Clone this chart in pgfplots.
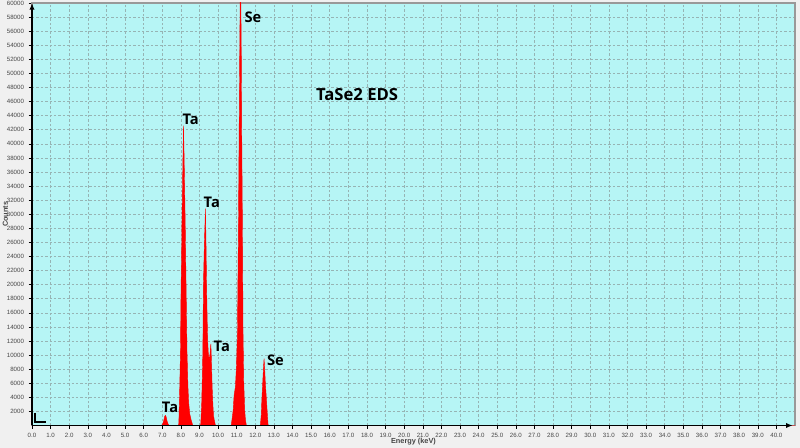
\documentclass[border=0pt]{standalone}
\usepackage{pgfplots}
\pgfplotsset{compat=1.18}
\usepackage{fontspec}
\setmainfont{Liberation Sans}
\newfontfamily\lab{Open Sans}
\usetikzlibrary{arrows.meta}
\definecolor{bgc}{RGB}{182,245,245}
\definecolor{outc}{RGB}{240,240,240}
\definecolor{gridc}{RGB}{150,180,180}
\definecolor{tickc}{RGB}{70,70,70}
\begin{document}
\begin{tikzpicture}
\fill[outc] (-24pt,-16.875pt) rectangle (576pt,319.125pt);
\begin{axis}[
  at={(0,0)}, anchor=south west,
  scale only axis, width=572.25pt, height=316.875pt,
  xmin=0, xmax=41, ymin=0, ymax=60000,
  axis background/.style={fill=bgc},
  axis line style={draw=gray!80, line width=1pt},
  xtick={0,1,...,40}, ytick={2000,4000,...,60000},
  xtick pos=lower, ytick pos=left,
  grid=major,
  major grid style={gridc, dash pattern=on 1.8pt off 1.5pt, line width=0.4pt},
  tick style={black, line width=0.4pt}, tick align=outside, major tick length=2.5pt,
  ticklabel style={font=\fontsize{4.6}{5.5}\selectfont, text=tickc},
  /pgf/number format/assume math mode=true,
  xticklabel style={/pgf/number format/.cd, fixed, fixed zerofill, precision=1},
  yticklabel style={/pgf/number format/.cd, fixed, 1000 sep={}},
  scaled y ticks=false,
  xlabel={\bfseries Energy (keV)}, ylabel={\bfseries Counts},
  xlabel style={at={(axis description cs:0.5,-0.0384)}, anchor=center, font=\fontsize{5.5}{6}\selectfont, text=tickc},
  ylabel style={at={(axis description cs:-0.035,0.5)}, anchor=center, font=\fontsize{5.5}{6}\selectfont, text=tickc},
  clip mode=individual,
]
\addplot[draw=red, fill=red, line width=0.3pt] coordinates {
(0,0) (6.95,0) (7.02,200) (7.08,700) (7.13,1300) (7.17,1450) (7.21,1200) (7.26,600) (7.32,150) (7.38,0)
(7.86,0) (7.89,300) (7.94,5500) (7.98,11000) (8.01,19700) (8.04,24000) (8.06,29200) (8.10,36000) (8.14,42600) (8.17,38700) (8.20,34000) (8.23,29200) (8.28,19700) (8.33,10300) (8.38,5500) (8.42,3200) (8.48,1600) (8.55,800) (8.64,0)
(9.05,0) (9.07,300) (9.12,3200) (9.18,10300) (9.21,19700) (9.26,25500) (9.32,30800) (9.35,26000) (9.38,20000) (9.41,15500) (9.44,12000) (9.48,10000) (9.53,9300) (9.57,10300) (9.61,11600) (9.64,9500) (9.68,5500) (9.72,3000) (9.75,1500) (9.80,700) (9.86,0)
(10.70,0) (10.72,300) (10.77,1300) (10.81,2200) (10.86,4300) (10.93,5500) (10.99,8500) (11.04,13100) (11.09,27300) (11.13,41500) (11.17,55700) (11.20,64000) (11.24,55700) (11.27,41500) (11.31,27300) (11.34,13100) (11.38,6000) (11.43,2200) (11.47,800) (11.52,0)
(12.26,0) (12.28,300) (12.32,1500) (12.35,3600) (12.40,6200) (12.44,8300) (12.47,9500) (12.50,8200) (12.54,6000) (12.60,3600) (12.65,1400) (12.69,0)
(41,0)
} \closedcycle;
\draw[black, line width=1.3pt, -{Latex[length=5pt,width=4pt]}] (rel axis cs:0,0) -- (rel axis cs:0,1);
\draw[black, line width=1.3pt, -{Latex[length=5pt,width=4pt]}] (rel axis cs:0,0) -- (rel axis cs:0.997,0);
\draw[black, line width=1.3pt] (rel axis cs:0.004,0.03) -- (rel axis cs:0.004,0.008) -- (rel axis cs:0.018,0.008);
\begin{scope}[every node/.style={font=\lab\bfseries\fontsize{11}{12}\selectfont, text=black}]
\node at (axis cs:7.42,2585) {Ta};
\node at (axis cs:8.53,43480) {Ta};
\node at (axis cs:9.66,31640) {Ta};
\node at (axis cs:10.20,11290) {Ta};
\node at (axis cs:11.87,57960) {Se};
\node at (axis cs:13.08,9200) {Se};
\node[font=\lab\bfseries\fontsize{12.5}{14}\selectfont] at (axis cs:17.47,46930) {TaSe2 EDS};
\end{scope}
\end{axis}
\pgfresetboundingbox
\path (-24pt,-16.875pt) rectangle (576pt,319.125pt);
\end{tikzpicture}
\end{document}
